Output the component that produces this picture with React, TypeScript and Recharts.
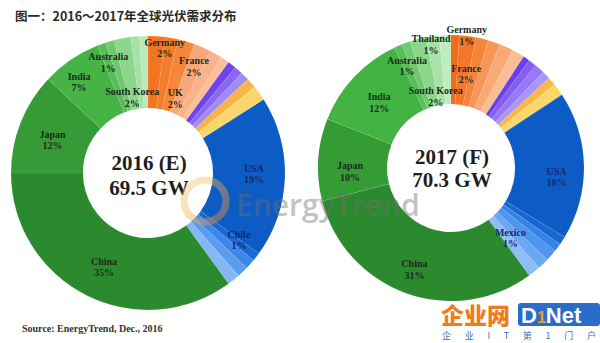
import { PieChart, Pie, Cell } from "recharts";

const RAD = Math.PI / 180;

// 2016 (E): slices clockwise from 12 o'clock, values in %
const names2016 = [
  "Germany", "Europe 2", "UK", "France", "Europe 5", "Europe 6",
  "Other P1", "Other P2", "Other P3", "Other Y1", "Other Y2",
  "USA", "Chile", "Americas 1", "Americas 2", "Americas 3",
  "China", "Japan", "India", "Australia", "Asia 1", "South Korea", "Asia 2", "Asia 3",
];
const values2016 = [
  2, 1.5, 2, 2, 1.5, 1,
  1, 1, 1, 1.2, 1.8,
  19, 1, 1.2, 1.3, 1.5,
  35, 12, 7, 1, 1, 2, 1, 1,
];
const colors2016 = [
  "#f37421", "#f57d2b", "#f6873a", "#f8a878", "#f9b38a", "#fbbf9c",
  "#6d45ec", "#8b68f2", "#a18cf5", "#f7b547", "#fcd66c",
  "#0d5bc4", "#1a68d2", "#3b88ea", "#5a9cf0", "#86b7f4",
  "#2c8a2e", "#369b37", "#46b346", "#58bd58", "#6ec86e", "#8dd68d", "#a6e1a6", "#bce9bc",
];

// 2017 (F)
const names2017 = [
  "Germany", "France", "Europe 3", "Europe 4", "Europe 5", "Europe 6",
  "Other P1", "Other P2", "Other P3", "Other P4", "Other Y1", "Other Y2",
  "USA", "Americas 1", "Mexico", "Americas 2", "Americas 3", "Americas 4",
  "China", "Japan", "India", "Australia", "Thailand", "South Korea", "Asia 1", "Asia 2",
];
const values2017 = [
  1, 2, 1.5, 1.5, 1.7, 1.5,
  0.8, 1, 1.2, 1, 1, 1.5,
  18, 1, 1, 1.4, 1.4, 1.5,
  31, 10, 12, 1, 1, 2, 1.6, 1.4,
];
const colors2017 = [
  "#f26a1c", "#f4762a", "#f6853c", "#f79656", "#f9aa74", "#fabd94",
  "#6b3ff0", "#865ff2", "#9878f4", "#a996f6", "#f8b84a", "#fcd76b",
  "#0d5cc6", "#1767cf", "#3583e8", "#4f95ee", "#6ba7f2", "#8fbdf6",
  "#2c8a2e", "#349b35", "#43b343", "#58bf58", "#70c970", "#8cd68c", "#a8e2a8", "#c0ecc0",
];

const totals = ["2016 (E)", "2017 (F)"];
const capacity = ["69.5 GW", "70.3 GW"];

// label placement per labelled slice: [radius, angular nudge in degrees]
const place2016: Record<string, [number, number]> = {
  Germany: [126, 4], UK: [79, 4], France: [116, 0], USA: [106, -1], Chile: [113, -1.4],
  China: [104, -2], Japan: [101, -2.6], India: [114, -3], Australia: [117, 0], "South Korea": [77, -1],
};
const place2017: Record<string, [number, number]> = {
  Germany: [133, 5], France: [95, 2], Thailand: [125, 10.6], Australia: [111, 0],
  "South Korea": [73, 2.4], India: [97, -1], Japan: [101, -5.6], China: [108, 0],
  USA: [106, 6], Mexico: [92, 13],
};
const blueLabels = ["USA", "Chile", "Mexico"];

const toRows = (names: string[], values: number[]) =>
  names.map((name, i) => ({ name, value: values[i] }));

const serif = "'Liberation Serif', 'Times New Roman', serif";

const makeLabel = (place: Record<string, [number, number]>) => (props: any) => {
  const { cx, cy, midAngle, name, value } = props;
  const p = place[name];
  if (!p) return <g />;
  const theta = (90 - midAngle + p[1]) * RAD;
  const x = cx + p[0] * Math.sin(theta);
  const y = cy - p[0] * Math.cos(theta);
  return (
    <text
      x={x}
      y={y - 2.5}
      textAnchor="middle"
      fontFamily={serif}
      fontWeight="bold"
      fontSize={10}
      fill={blueLabels.includes(name) ? "#15296a" : "#1c2c1c"}
    >
      <tspan x={x}>{name}</tspan>
      <tspan x={x} dy={11.5}>{value}%</tspan>
    </text>
  );
};

const C1 = { x: 148, y: 173 };
const C2 = { x: 451, y: 168 };

export default function App() {
  const d16 = toRows(names2016, values2016);
  const d17 = toRows(names2017, values2017);

  return (
    <div style={{ position: "absolute", left: 0, top: 0, width: 600, height: 343, background: "#fff" }}>
      <PieChart width={600} height={343} margin={{ top: 0, right: 0, bottom: 0, left: 0 }}>
        <Pie
          data={d16}
          dataKey="value"
          nameKey="name"
          cx={C1.x}
          cy={C1.y}
          innerRadius={65}
          outerRadius={137}
          startAngle={90}
          endAngle={-270}
          stroke="rgba(255,255,255,0.12)"
          strokeWidth={0.5}
          label={makeLabel(place2016)}
          labelLine={false}
          isAnimationActive={false}
        >
          {d16.map((_, i) => (
            <Cell key={i} fill={colors2016[i]} />
          ))}
        </Pie>
        <Pie
          data={d17}
          dataKey="value"
          nameKey="name"
          cx={C2.x}
          cy={C2.y}
          innerRadius={64}
          outerRadius={133}
          startAngle={90}
          endAngle={-270}
          stroke="rgba(255,255,255,0.12)"
          strokeWidth={0.5}
          label={makeLabel(place2017)}
          labelLine={false}
          isAnimationActive={false}
        >
          {d17.map((_, i) => (
            <Cell key={i} fill={colors2017[i]} />
          ))}
        </Pie>
      </PieChart>

      <svg
        width={600}
        height={343}
        style={{ position: "absolute", left: 0, top: 0, pointerEvents: "none" }}
      >
        <defs>
          <linearGradient id="ring" x1="0" y1="0" x2="1" y2="1">
            <stop offset="0%" stopColor="#f7d36a" />
            <stop offset="100%" stopColor="#f08a2c" />
          </linearGradient>
        </defs>

        <text x={15} y={21} fontFamily="'Noto Sans CJK SC', sans-serif" fontWeight="bold" fontSize={12.5} fill="#2a2a2a">
          图一：2016～2017年全球光伏需求分布
        </text>

        {/* centre captions */}
        {[C1, C2].map((c, i) => (
          <g key={i} fontFamily={serif} fontWeight="bold" fontSize={21} fill="#1e1e1e" textAnchor="middle">
            <text x={c.x + 1} y={c.y - (i ? 4 : 3)}>{totals[i]}</text>
            <text x={c.x + 1} y={c.y + (i ? 19 : 22)}>{capacity[i]}</text>
          </g>
        ))}

        {/* EnergyTrend watermark */}
        <g opacity={0.42}>
          <circle cx={205} cy={201} r={21} fill="none" stroke="url(#ring)" strokeWidth={7} />
          <text x={236} y={216} fontFamily="'Open Sans', sans-serif" fontWeight={600} fontSize={30} fill="#707070">
            EnergyTrend
          </text>
        </g>

        <text x={22} y={332} fontFamily={serif} fontWeight="bold" fontSize={10} fill="#333">
          Source: EnergyTrend, Dec., 2016
        </text>

        {/* site mark */}
        <text x={441} y={324} fontFamily="'Noto Sans CJK SC', sans-serif" fontWeight={900} fontSize={23} fill="#f07b1a">
          企业网
        </text>
        <rect x={518} y={303} width={82} height={23} rx={3} fill="#2a6cc9" />
        <text x={521} y={323} fontFamily="'Liberation Sans', sans-serif" fontWeight="bold" fontSize={22} fill="#fff">
          D<tspan fill="#f39a2a" fontSize={16}>1</tspan>Net
        </text>
        <text x={442} y={339} fontFamily="'Noto Sans CJK SC', sans-serif" fontSize={9} fill="#3d6fb8" textLength={154} lengthAdjust="spacing">
          企业IT第1门户
        </text>
      </svg>
    </div>
  );
}
